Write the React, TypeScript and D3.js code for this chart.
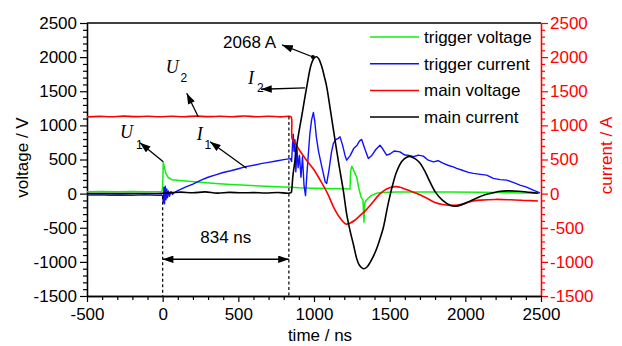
import { useRef, useEffect } from 'react';
import * as d3 from 'd3';

const W = 622;
const H = 346;
const FONT = 'Liberation Sans, Arial, sans-serif';
const SERIF = 'Liberation Serif, Times New Roman, serif';

const xTicks = [-500, 0, 500, 1000, 1500, 2000, 2500];
const yTicks = [-1500, -1000, -500, 0, 500, 1000, 1500, 2000, 2500];

const seriesNames = ['trigger voltage', 'trigger current', 'main voltage', 'main current'];
const seriesColors = ['#12ee12', '#1010ff', '#ff0000', '#000000'];
const seriesWidths = [1.5, 1.4, 1.6, 1.6];

// trigger voltage (V) vs time (ns)
const triggerVoltage: [number, number][] = [
  [-500, 28], [-400, 30], [-300, 26], [-200, 30], [-100, 28], [-5, 30], [0, 90], [4, 460],
  [10, 400], [20, 300], [35, 240], [60, 205], [100, 195], [150, 185], [250, 168], [350, 150],
  [450, 135], [550, 122], [650, 112], [750, 100], [850, 92], [900, 85], [1000, 80], [1100, 75],
  [1200, 70], [1238, 66], [1242, 330], [1250, 400], [1258, 360], [1270, 300], [1282, 240],
  [1295, 90], [1311, -50], [1324, -100], [1330, -420], [1336, -130], [1348, -90], [1380, -25],
  [1414, 5], [1450, 18], [1550, 25], [1700, 24], [1900, 25], [2100, 20], [2300, 14], [2490, 5],
];

// trigger current (A)
const triggerCurrent: [number, number][] = [
  [-500, -22], [-420, -18], [-350, -24], [-280, -20], [-200, -25], [-120, -19], [-40, -24],
  [-5, -20], [0, -40], [4, -130], [8, 90], [12, -150], [17, 110], [22, -90], [27, 70], [32, -60],
  [38, 40], [45, -40], [55, 30], [65, -10], [80, 20], [100, 45], [150, 95], [200, 140], [250, 195],
  [300, 240], [350, 275], [400, 310], [450, 335], [500, 365], [550, 395], [600, 415], [650, 440],
  [700, 458], [750, 478], [800, 498], [845, 512], [852, 470], [858, 720], [863, 870], [868, 620],
  [874, 790], [880, 320], [888, 650], [895, 380], [904, 560], [914, 240], [924, 540], [934, 120],
  [944, -30], [952, 250], [962, 560], [972, 860], [984, 1080], [996, 1190], [1005, 1060],
  [1016, 820], [1030, 620], [1045, 460], [1060, 310], [1074, 170], [1084, 150], [1100, 360],
  [1115, 600], [1128, 735], [1145, 790], [1160, 810], [1172, 832], [1190, 700], [1205, 560],
  [1216, 490], [1240, 560], [1262, 660], [1285, 710], [1300, 770], [1315, 794], [1335, 660],
  [1359, 515], [1382, 560], [1410, 650], [1436, 710], [1456, 650], [1480, 564], [1502, 580],
  [1530, 625], [1568, 612], [1600, 565], [1630, 560], [1657, 540], [1690, 565], [1722, 550],
  [1755, 490], [1789, 466], [1820, 482], [1855, 442], [1890, 412], [1920, 392], [1943, 369],
  [1980, 342], [2020, 312], [2054, 296], [2100, 282], [2141, 271], [2185, 223], [2230, 205],
  [2273, 198], [2320, 160], [2361, 125], [2400, 98], [2449, 51], [2493, 12],
];

// main voltage (V)
const mainVoltage: [number, number][] = [
  [-500, 1125], [-420, 1132], [-340, 1126], [-260, 1136], [-180, 1128], [-100, 1133], [-20, 1126],
  [60, 1134], [140, 1127], [220, 1136], [300, 1128], [380, 1134], [460, 1127], [540, 1137],
  [620, 1126], [700, 1134], [780, 1125], [845, 1130], [852, 1100], [856, 800], [870, 760],
  [900, 650], [950, 490], [1000, 350], [1040, 200], [1090, 0], [1130, -200], [1170, -350],
  [1210, -445], [1240, -430], [1270, -390], [1300, -330], [1340, -250], [1380, -150],
  [1420, -40], [1460, 40], [1500, 85], [1540, 102], [1570, 92], [1620, 52], [1680, 2],
  [1740, -60], [1800, -130], [1850, -160], [1900, -172], [1950, -166], [2000, -140],
  [2050, -108], [2100, -95], [2200, -85], [2300, -90], [2400, -100], [2480, -108],
];

// main current (A)
const mainCurrent: [number, number][] = [
  [-500, 0], [-300, 0], [-100, 0], [0, 5], [60, 15], [120, 22], [200, 12], [280, 25], [360, 8],
  [440, 18], [520, 12], [600, 15], [680, 10], [760, 16], [848, 14], [853, 60], [860, 250],
  [874, 480], [890, 760], [920, 1150], [952, 1565], [980, 1880], [1000, 1985], [1015, 2005],
  [1030, 1980], [1050, 1870], [1070, 1700], [1084, 1565], [1110, 1200], [1139, 784], [1165, 420],
  [1194, 40], [1216, -300], [1240, -560], [1262, -760], [1282, -950], [1300, -1050],
  [1326, -1100], [1350, -1075], [1370, -1010], [1392, -920], [1415, -800], [1436, -660],
  [1458, -500], [1490, -150], [1520, 130], [1546, 320], [1580, 470], [1610, 530], [1634, 545],
  [1670, 510], [1700, 450], [1730, 340], [1760, 200], [1800, 30], [1850, -100], [1900, -170],
  [1935, -185], [1980, -160], [2030, -110], [2080, -60], [2130, -15], [2170, 5], [2220, 30],
  [2280, 40], [2350, 35], [2420, 20], [2480, 5],
];

const seriesData = [triggerVoltage, triggerCurrent, mainVoltage, mainCurrent];

// annotations in data units: label, text anchor, arrow from, arrow tip
const symbolLabels = [
  { main: 'U', sub: '2', text: [20, 1763], subAt: [118, 1630], from: [235, 1127], to: [159, 1470] },
  { main: 'U', sub: '1', text: [-282, 811], subAt: [-176, 650], from: [4, 468], to: [-150, 746] },
  { main: 'I', sub: '1', text: [225, 786], subAt: [276, 649], from: [555, 371], to: [313, 761] },
  { main: 'I', sub: '2', text: [564, 1606], subAt: [624, 1489], from: [941, 1548], to: [650, 1529] },
];
const peakLabel = { text: '2068 A', at: [749, 2134], from: [993, 2002], to: [789, 2178] };
const delayLabel = { text: '834 ns', start: 0, end: 834, textY: -723, arrowY: -962, leftTop: -40, rightTop: 1130 };

export default function App() {
  const svgRef = useRef<SVGSVGElement>(null);

  useEffect(() => {
    const svg = d3.select(svgRef.current);
    svg.selectAll('*').remove();

    const left = 87, right = 541, top = 23, bottom = 296;
    const x = d3.scaleLinear().domain([-500, 2500]).range([left, right]);
    const y = d3.scaleLinear().domain([-1500, 2500]).range([bottom, top]);

    const defs = svg.append('defs');
    defs.append('clipPath').attr('id', 'plot-clip')
      .append('rect').attr('x', left).attr('y', top).attr('width', right - left).attr('height', bottom - top);
    defs.append('marker')
      .attr('id', 'arrowhead')
      .attr('viewBox', '0 0 10 7')
      .attr('refX', 10).attr('refY', 3.5)
      .attr('markerUnits', 'userSpaceOnUse')
      .attr('markerWidth', 11).attr('markerHeight', 7.5)
      .attr('orient', 'auto-start-reverse')
      .append('path').attr('d', 'M0,0 L10,3.5 L0,7 Z').attr('fill', '#000');

    const minorVals = d3.range(-1500, 2501, 100).filter((v) => v % 500 !== 0);
    const minorX = d3.range(-500, 2501, 100).filter((v) => v % 500 !== 0);

    const styleAxis = (g: any, color: string) => {
      g.selectAll('path').attr('stroke', color).attr('stroke-width', 1.3);
      g.selectAll('line').attr('stroke', color).attr('stroke-width', 1.2);
      g.selectAll('text').attr('fill', color).attr('font-family', FONT).attr('font-size', 17);
    };
    const signed = (d: any) => (d < 0 ? '-' + Math.abs(d) : String(d));

    // minor ticks
    const minorLeft = svg.append('g').attr('transform', `translate(${left},0)`)
      .call(d3.axisLeft(y).tickValues(minorVals).tickSize(4).tickSizeOuter(0).tickFormat(() => ''));
    styleAxis(minorLeft, '#000');
    const minorRight = svg.append('g').attr('transform', `translate(${right},0)`)
      .call(d3.axisRight(y).tickValues(minorVals).tickSize(4).tickSizeOuter(0).tickFormat(() => ''));
    styleAxis(minorRight, '#ff0000');
    const minorBottom = svg.append('g').attr('transform', `translate(0,${bottom})`)
      .call(d3.axisBottom(x).tickValues(minorX).tickSize(4).tickSizeOuter(0).tickFormat(() => ''));
    styleAxis(minorBottom, '#000');

    // major axes
    const gLeft = svg.append('g').attr('transform', `translate(${left},0)`)
      .call(d3.axisLeft(y).tickValues(yTicks).tickSize(7).tickSizeOuter(0).tickPadding(3).tickFormat(signed));
    styleAxis(gLeft, '#000');
    const gRight = svg.append('g').attr('transform', `translate(${right},0)`)
      .call(d3.axisRight(y).tickValues(yTicks).tickSize(7).tickSizeOuter(0).tickPadding(2).tickFormat(signed));
    styleAxis(gRight, '#ff0000');
    const gBottom = svg.append('g').attr('transform', `translate(0,${bottom})`)
      .call(d3.axisBottom(x).tickValues(xTicks).tickSize(6).tickSizeOuter(0).tickPadding(6).tickFormat(signed));
    styleAxis(gBottom, '#000');

    svg.append('line')
      .attr('x1', left).attr('x2', right).attr('y1', top).attr('y2', top)
      .attr('stroke', '#000').attr('stroke-width', 1.3);

    // axis titles
    svg.append('text')
      .attr('transform', `translate(28,${(top + bottom) / 2 - 2}) rotate(-90)`)
      .attr('text-anchor', 'middle')
      .attr('font-family', FONT).attr('font-size', 17)
      .text('voltage / V');
    svg.append('text')
      .attr('transform', `translate(612,${(top + bottom) / 2 - 4}) rotate(-90)`)
      .attr('text-anchor', 'middle')
      .attr('font-family', FONT).attr('font-size', 17).attr('fill', '#ff0000')
      .text('current / A');
    svg.append('text')
      .attr('x', (left + right) / 2 + 6).attr('y', 341)
      .attr('text-anchor', 'middle')
      .attr('font-family', FONT).attr('font-size', 17)
      .text('time / ns');

    // traces
    const line = d3.line<[number, number]>().x((d) => x(d[0])).y((d) => y(d[1]));
    const smooth = d3.line<[number, number]>().x((d) => x(d[0])).y((d) => y(d[1])).curve(d3.curveCatmullRom.alpha(0.5));
    const traces = svg.append('g').attr('clip-path', 'url(#plot-clip)');
    seriesData.forEach((data, i) => {
      traces.append('path')
        .datum(data)
        .attr('fill', 'none')
        .attr('stroke', seriesColors[i])
        .attr('stroke-width', seriesWidths[i])
        .attr('stroke-linejoin', 'round')
        .attr('d', i >= 2 ? smooth : line);
    });

    // delay markers
    const ann = svg.append('g');
    [
      [delayLabel.start, delayLabel.leftTop],
      [delayLabel.end, delayLabel.rightTop],
    ].forEach(([t, v]) => {
      ann.append('line')
        .attr('x1', x(t)).attr('x2', x(t))
        .attr('y1', y(v)).attr('y2', bottom)
        .attr('stroke', '#000').attr('stroke-width', 1.2)
        .attr('stroke-dasharray', '3,2.5');
    });
    ann.append('line')
      .attr('x1', x(delayLabel.start)).attr('x2', x(delayLabel.end))
      .attr('y1', y(delayLabel.arrowY)).attr('y2', y(delayLabel.arrowY))
      .attr('stroke', '#000').attr('stroke-width', 1.5)
      .attr('marker-start', 'url(#arrowhead)').attr('marker-end', 'url(#arrowhead)');
    ann.append('text')
      .attr('x', x((delayLabel.start + delayLabel.end) / 2)).attr('y', y(delayLabel.textY))
      .attr('text-anchor', 'middle')
      .attr('font-family', FONT).attr('font-size', 17)
      .text(delayLabel.text);

    // peak label
    ann.append('line')
      .attr('x1', x(peakLabel.from[0])).attr('y1', y(peakLabel.from[1]))
      .attr('x2', x(peakLabel.to[0])).attr('y2', y(peakLabel.to[1]))
      .attr('stroke', '#000').attr('stroke-width', 1.3)
      .attr('marker-end', 'url(#arrowhead)');
    ann.append('circle')
      .attr('cx', x(peakLabel.from[0])).attr('cy', y(peakLabel.from[1])).attr('r', 2)
      .attr('fill', '#000');
    ann.append('text')
      .attr('x', x(peakLabel.at[0])).attr('y', y(peakLabel.at[1]))
      .attr('text-anchor', 'end')
      .attr('font-family', FONT).attr('font-size', 17)
      .text(peakLabel.text);

    // symbol labels with arrows
    symbolLabels.forEach((s) => {
      ann.append('line')
        .attr('x1', x(s.from[0])).attr('y1', y(s.from[1]))
        .attr('x2', x(s.to[0])).attr('y2', y(s.to[1]))
        .attr('stroke', '#000').attr('stroke-width', 1.3)
        .attr('marker-end', 'url(#arrowhead)');
      ann.append('text')
        .attr('x', x(s.text[0])).attr('y', y(s.text[1]))
        .attr('font-family', SERIF).attr('font-style', 'italic').attr('font-size', 18)
        .text(s.main);
      ann.append('text')
        .attr('x', x(s.subAt[0])).attr('y', y(s.subAt[1]))
        .attr('font-family', FONT).attr('font-size', 12)
        .text(s.sub);
    });

    // legend
    const legend = svg.append('g').attr('transform', 'translate(370,37)');
    seriesNames.forEach((name, i) => {
      const row = legend.append('g').attr('transform', `translate(0,${i * 26.7})`);
      row.append('line')
        .attr('x1', 0).attr('x2', 49).attr('y1', 0).attr('y2', 0)
        .attr('stroke', seriesColors[i]).attr('stroke-width', 1.5);
      row.append('text')
        .attr('x', 54).attr('y', 6)
        .attr('font-family', FONT).attr('font-size', 17)
        .text(name);
    });
  }, []);

  return (
    <svg
      ref={svgRef}
      width={W}
      height={H}
      style={{ position: 'absolute', left: 0, top: 0, background: '#fff' }}
    />
  );
}
